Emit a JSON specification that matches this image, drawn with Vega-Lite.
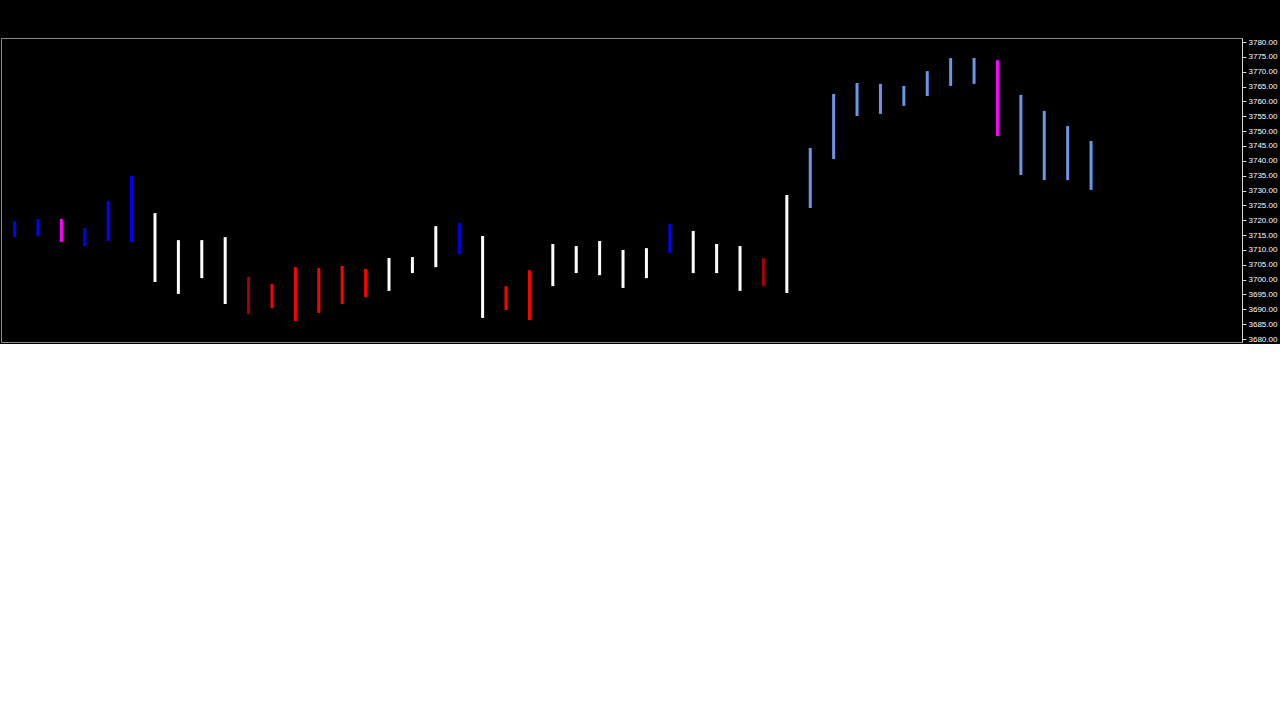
{
"$schema":"https://vega.github.io/schema/vega-lite/v6.json",
"background":"#000000",
"padding":{"left":0,"top":37,"right":0,"bottom":0},
"spacing":2,
"config":{
 "view":{"stroke":"#8a8a8a","strokeWidth":1},
 "axis":{"labelColor":"#ffffff","labelFont":"Liberation Sans","labelFontSize":8,"domainColor":"#d8d8d8","tickColor":"#d8d8d8","tickSize":4,"grid":false,"labelPadding":2,"labelOverlap":false,"labelBound":false},
 "text":{"font":"Liberation Sans Narrow, Arial Narrow, DejaVu Sans Condensed, sans-serif"}
},
"datasets":{
 "candles":[
  {"i":-1,"o":3717.0,"h":3719.7,"l":3714.3,"c":3715.4,"k":"b"},
  {"i":0,"o":3715.7,"h":3720.4,"l":3714.7,"c":3717.0,"k":"b"},
  {"i":1,"o":3717.4,"h":3720.4,"l":3712.7,"c":3713.7,"k":"m"},
  {"i":2,"o":3716.0,"h":3717.4,"l":3711.3,"c":3714.3,"k":"b"},
  {"i":3,"o":3714.0,"h":3726.5,"l":3713.0,"c":3723.8,"k":"b"},
  {"i":4,"o":3718.7,"h":3734.9,"l":3712.7,"c":3724.1,"k":"b"},
  {"i":5,"o":3719.4,"h":3722.4,"l":3699.2,"c":3704.6,"k":"w"},
  {"i":6,"o":3707.3,"h":3713.3,"l":3695.2,"c":3704.2,"k":"w"},
  {"i":7,"o":3713.0,"h":3713.3,"l":3700.5,"c":3712.7,"k":"w"},
  {"i":8,"o":3708.3,"h":3714.3,"l":3691.8,"c":3696.2,"k":"w"},
  {"i":9,"o":3696.5,"h":3700.9,"l":3688.4,"c":3693.8,"k":"d"},
  {"i":10,"o":3694.1,"h":3698.5,"l":3690.4,"c":3693.5,"k":"r"},
  {"i":11,"o":3701.5,"h":3704.2,"l":3686.1,"c":3693.5,"k":"r"},
  {"i":12,"o":3701.5,"h":3703.9,"l":3688.8,"c":3693.8,"k":"r"},
  {"i":13,"o":3702.9,"h":3704.6,"l":3691.8,"c":3693.8,"k":"r"},
  {"i":14,"o":3701.5,"h":3703.6,"l":3694.1,"c":3696.8,"k":"r"},
  {"i":15,"o":3696.8,"h":3707.3,"l":3696.2,"c":3703.9,"k":"w"},
  {"i":16,"o":3703.6,"h":3707.6,"l":3702.2,"c":3706.3,"k":"w"},
  {"i":17,"o":3706.3,"h":3718.0,"l":3704.2,"c":3712.7,"k":"w"},
  {"i":18,"o":3713.0,"h":3719.1,"l":3708.6,"c":3711.3,"k":"b"},
  {"i":19,"o":3711.3,"h":3714.7,"l":3687.1,"c":3694.5,"k":"w"},
  {"i":20,"o":3694.8,"h":3697.8,"l":3689.8,"c":3690.4,"k":"r"},
  {"i":21,"o":3698.5,"h":3703.2,"l":3686.4,"c":3690.4,"k":"r"},
  {"i":22,"o":3698.2,"h":3712.0,"l":3697.8,"c":3708.6,"k":"w"},
  {"i":23,"o":3703.2,"h":3711.3,"l":3702.2,"c":3708.6,"k":"w"},
  {"i":24,"o":3703.2,"h":3713.0,"l":3701.5,"c":3708.6,"k":"w"},
  {"i":25,"o":3704.6,"h":3710.0,"l":3697.2,"c":3709.0,"k":"w"},
  {"i":26,"o":3703.9,"h":3710.6,"l":3700.5,"c":3709.3,"k":"w"},
  {"i":27,"o":3709.0,"h":3718.7,"l":3709.0,"c":3713.0,"k":"b"},
  {"i":28,"o":3713.0,"h":3716.4,"l":3702.2,"c":3703.9,"k":"w"},
  {"i":29,"o":3710.6,"h":3712.0,"l":3702.2,"c":3703.9,"k":"w"},
  {"i":30,"o":3710.6,"h":3711.3,"l":3696.2,"c":3698.9,"k":"w"},
  {"i":31,"o":3702.2,"h":3707.3,"l":3697.8,"c":3698.9,"k":"d"},
  {"i":32,"o":3701.9,"h":3728.5,"l":3695.5,"c":3726.8,"k":"w"},
  {"i":33,"o":3726.8,"h":3744.3,"l":3724.1,"c":3742.3,"k":"l"},
  {"i":34,"o":3742.3,"h":3762.5,"l":3740.6,"c":3755.8,"k":"l"},
  {"i":35,"o":3755.8,"h":3766.2,"l":3755.1,"c":3763.5,"k":"l"},
  {"i":36,"o":3758.5,"h":3765.9,"l":3755.8,"c":3763.5,"k":"l"},
  {"i":37,"o":3762.5,"h":3765.2,"l":3758.5,"c":3758.8,"k":"l"},
  {"i":38,"o":3762.2,"h":3770.2,"l":3761.8,"c":3769.2,"k":"l"},
  {"i":39,"o":3765.9,"h":3774.6,"l":3765.2,"c":3769.2,"k":"l"},
  {"i":40,"o":3765.9,"h":3774.6,"l":3765.9,"c":3769.6,"k":"l"},
  {"i":41,"o":3769.6,"h":3773.9,"l":3748.3,"c":3751.4,"k":"m"},
  {"i":42,"o":3751.0,"h":3762.2,"l":3735.2,"c":3749.4,"k":"l"},
  {"i":43,"o":3749.4,"h":3756.8,"l":3733.5,"c":3747.7,"k":"l"},
  {"i":44,"o":3746.7,"h":3751.7,"l":3733.5,"c":3740.3,"k":"l"},
  {"i":45,"o":3740.3,"h":3746.7,"l":3730.2,"c":3745.25,"k":"l"}
 ],
 "ema":[
  {"i":-1,"cy":3715.7,"r":3710.3,"mg":3716.0,"ye":3705.3,"yk":"g"},
  {"i":0,"cy":3715.7,"r":3710.6,"mg":3716.0,"ye":3705.6,"yk":"g"},
  {"i":1,"cy":3715.7,"r":3711.3,"mg":3716.0,"ye":3706.3,"yk":"g"},
  {"i":2,"cy":3714.7,"r":3712.0,"mg":3715.8,"ye":3706.6,"yk":"g"},
  {"i":3,"cy":3718.0,"r":3713.7,"mg":3715.7,"ye":3707.3,"yk":"g"},
  {"i":4,"cy":3718.0,"r":3714.3,"mg":3715.7,"ye":3707.6,"yk":"g"},
  {"i":5,"cy":3713.7,"r":3713.7,"mg":3715.7,"ye":3707.6,"yk":"g"},
  {"i":6,"cy":3711.7,"r":3712.3,"mg":3715.5,"ye":3707.6,"yk":"g"},
  {"i":7,"cy":3710.6,"r":3711.3,"mg":3715.4,"ye":3707.6,"yk":"g"},
  {"i":8,"cy":3706.3,"r":3709.6,"mg":3715.4,"ye":3706.9,"yk":"g"},
  {"i":9,"cy":3701.9,"r":3707.3,"mg":3715.2,"ye":3706.6,"yk":"g"},
  {"i":10,"cy":3698.9,"r":3705.6,"mg":3715.0,"ye":3705.9,"yk":"g"},
  {"i":11,"cy":3699.5,"r":3704.6,"mg":3715.0,"ye":3705.9,"yk":"g"},
  {"i":12,"cy":3697.5,"r":3702.9,"mg":3714.8,"ye":3705.3,"yk":"g"},
  {"i":13,"cy":3699.2,"r":3702.2,"mg":3714.7,"ye":3705.3,"yk":"g"},
  {"i":14,"cy":3698.5,"r":3701.9,"mg":3714.7,"ye":3704.9,"yk":"g"},
  {"i":15,"cy":3700.5,"r":3702.9,"mg":3714.5,"ye":3704.9,"yk":"g"},
  {"i":16,"cy":3702.2,"r":3703.6,"mg":3714.3,"ye":3704.9,"yk":"g"},
  {"i":17,"cy":3706.3,"r":3704.2,"mg":3714.3,"ye":3705.3,"yk":"g"},
  {"i":18,"cy":3707.6,"r":3704.6,"mg":3714.3,"ye":3705.3,"yk":"g"},
  {"i":19,"cy":3703.6,"r":3703.6,"mg":3714.2,"ye":3704.9,"yk":"y"},
  {"i":20,"cy":3698.9,"r":3702.6,"mg":3714.0,"ye":3704.2,"yk":"y"},
  {"i":21,"cy":3698.9,"r":3702.2,"mg":3714.0,"ye":3704.2,"yk":"y"},
  {"i":22,"cy":3701.9,"r":3702.6,"mg":3714.0,"ye":3704.2,"yk":"y"},
  {"i":23,"cy":3702.9,"r":3703.6,"mg":3713.8,"ye":3704.6,"yk":"y"},
  {"i":24,"cy":3703.9,"r":3703.9,"mg":3713.7,"ye":3704.6,"yk":"y"},
  {"i":25,"cy":3704.6,"r":3704.6,"mg":3713.7,"ye":3704.6,"yk":"y"},
  {"i":26,"cy":3705.6,"r":3704.9,"mg":3713.7,"ye":3704.6,"yk":"y"},
  {"i":27,"cy":3708.6,"r":3705.6,"mg":3713.5,"ye":3704.9,"yk":"y"},
  {"i":28,"cy":3707.3,"r":3705.9,"mg":3713.5,"ye":3704.9,"yk":"y"},
  {"i":29,"cy":3708.0,"r":3705.9,"mg":3713.3,"ye":3704.9,"yk":"y"},
  {"i":30,"cy":3705.6,"r":3705.6,"mg":3713.3,"ye":3704.9,"yk":"y"},
  {"i":31,"cy":3704.2,"r":3705.6,"mg":3713.0,"ye":3705.3,"yk":"y"},
  {"i":32,"cy":3710.6,"r":3708.3,"mg":3713.3,"ye":3705.9,"yk":"y"},
  {"i":33,"cy":3723.0,"r":3713.0,"mg":3713.7,"ye":3707.3,"yk":"y"},
  {"i":34,"cy":3734.0,"r":3718.7,"mg":3714.0,"ye":3709.0,"yk":"y"},
  {"i":35,"cy":3743.6,"r":3725.5,"mg":3714.7,"ye":3711.0,"yk":"y"},
  {"i":36,"cy":3748.3,"r":3729.8,"mg":3715.0,"ye":3713.3,"yk":"y"},
  {"i":37,"cy":3752.7,"r":3734.2,"mg":3715.4,"ye":3715.0,"yk":"y"},
  {"i":38,"cy":3758.5,"r":3739.9,"mg":3715.7,"ye":3717.4,"yk":"y"},
  {"i":39,"cy":3761.1,"r":3744.0,"mg":3716.4,"ye":3719.1,"yk":"y"},
  {"i":40,"cy":3764.2,"r":3747.3,"mg":3716.7,"ye":3721.1,"yk":"y"},
  {"i":41,"cy":3759.5,"r":3747.7,"mg":3717.0,"ye":3722.1,"yk":"y"},
  {"i":42,"cy":3756.1,"r":3748.0,"mg":3717.4,"ye":3723.1,"yk":"y"},
  {"i":43,"cy":3753.4,"r":3747.7,"mg":3717.7,"ye":3724.1,"yk":"y"},
  {"i":44,"cy":3749.0,"r":3747.0,"mg":3718.0,"ye":3724.8,"yk":"y"},
  {"i":45,"cy":3747.9,"r":3746.6,"mg":3718.42,"ye":3725.79,"yk":"y"}
 ],
 "cloudR":[
  {"i":-1.37,"t":3712.3,"b":3712.3},
  {"i":-1,"t":3712.3,"b":3688.4},
  {"i":3,"t":3711.3,"b":3688.8},
  {"i":6,"t":3711.0,"b":3689.1},
  {"i":9,"t":3710.6,"b":3690.4},
  {"i":12,"t":3710.0,"b":3691.8},
  {"i":15,"t":3709.0,"b":3693.1},
  {"i":16.5,"t":3707.0,"b":3693.6},
  {"i":18,"t":3702.9,"b":3693.8},
  {"i":19.5,"t":3693.8,"b":3693.8}
 ],
 "cloudG":[
  {"i":19.5,"t":3693.8,"b":3693.8},
  {"i":20.5,"t":3699.5,"b":3686.7},
  {"i":21.5,"t":3700.9,"b":3684.0},
  {"i":23,"t":3702.2,"b":3686.7},
  {"i":25,"t":3703.6,"b":3691.1},
  {"i":27,"t":3705.3,"b":3695.5},
  {"i":29,"t":3706.9,"b":3698.9},
  {"i":31,"t":3708.3,"b":3701.5},
  {"i":33,"t":3709.0,"b":3703.6},
  {"i":35,"t":3709.6,"b":3703.9},
  {"i":37,"t":3710.3,"b":3703.9},
  {"i":39,"t":3709.6,"b":3703.9},
  {"i":41,"t":3707.6,"b":3703.9},
  {"i":43,"t":3706.3,"b":3703.9},
  {"i":45,"t":3705.9,"b":3703.9},
  {"i":51.2,"t":3705.9,"b":3703.9}
 ],
 "dots":[
  {"i":-1,"p":3729.8,"k":"gold"},{"i":0,"p":3729.8,"k":"green"},{"i":7,"p":3695.2,"k":"gold"},
  {"i":8,"p":3691.2,"k":"red"},{"i":10,"p":3688.2,"k":"gold"},{"i":11,"p":3686.2,"k":"red"},
  {"i":12,"p":3686.2,"k":"gold"},{"i":13,"p":3686.2,"k":"gold"},{"i":14,"p":3686.2,"k":"gold"},
  {"i":21,"p":3685.0,"k":"red"},{"i":23,"p":3719.4,"k":"gold"},{"i":36,"p":3767.0,"k":"gold"},
  {"i":37,"p":3767.0,"k":"gold"},{"i":38,"p":3771.3,"k":"green"},{"i":40,"p":3776.0,"k":"gold"},
  {"i":45,"p":3733.2,"k":"red"}
 ],
 "crosses":[
  {"i":8,"p":3712.0,"k":"tan"},{"i":10,"p":3700.2,"k":"gray"},{"i":17,"p":3702.2,"k":"tan"},
  {"i":19,"p":3713.0,"k":"tan"},{"i":24,"p":3700.9,"k":"tan"},{"i":26,"p":3697.8,"k":"gray"},
  {"i":31,"p":3705.3,"k":"tan"},{"i":32,"p":3694.5,"k":"tan"}
 ],
 "arrowsDown":[{"i":18,"p":3724.3}],
 "arrowsUp":[{"i":28,"p":3699.0},{"i":31,"p":3694.2}],
 "ptags":[
  {"p":3748.6,"t":"3748.56","k":"cy"},
  {"p":3747.2,"t":"3747.20","k":"cr"},
  {"p":3745.25,"t":"3745.25","k":"bk"},
  {"p":3733.25,"t":"3733.25","k":"rd"},
  {"p":3725.79,"t":"3725.79","k":"ye"},
  {"p":3718.42,"t":"3718.42","k":"mg"}
 ],
 "mom":[
  {"i":-1,"h":1,"m":13.6,"s":13.6},{"i":0,"h":0.7,"m":13.6,"s":14},{"i":1,"h":-1,"m":13,"s":13.6},
  {"i":2,"h":-1.5,"m":12.1,"s":13},{"i":3,"h":2,"m":14.2,"s":13.6},{"i":4,"h":0.5,"m":14.2,"s":13.6},
  {"i":5,"h":-7.2,"m":8.1,"s":11.8},{"i":6,"h":-8.5,"m":5.7,"s":9.4},{"i":7,"h":-7.5,"m":3.9,"s":7.5},
  {"i":8,"h":-12.2,"m":-1.7,"s":3.5},{"i":9,"h":-13.6,"m":-5.7,"s":0.7},{"i":10,"h":-12.8,"m":-9,"s":-2},
  {"i":11,"h":-6.8,"m":-7.5,"s":-4.2},{"i":12,"h":-5.9,"m":-9.4,"s":-5.7},{"i":13,"h":-1.2,"m":-7.2,"s":-6.1},
  {"i":14,"h":-1.5,"m":-6.6,"s":-6.1},{"i":15,"h":2.5,"m":-4.8,"s":-5.3},{"i":16,"h":4.7,"m":-2.6,"s":-3.9},
  {"i":17,"h":8.4,"m":1.3,"s":-2},{"i":18,"h":8.4,"m":3.5,"s":-0.2},{"i":19,"h":0.4,"m":-0.6,"s":-1.1},
  {"i":20,"h":-5,"m":-5.3,"s":-2.6},{"i":21,"h":-3.7,"m":-5,"s":-3.5},{"i":22,"h":2.5,"m":-1.7,"s":-2.4},
  {"i":23,"h":2.5,"m":-1.5,"s":-2},{"i":24,"h":4.4,"m":0.7,"s":-1.1},{"i":25,"h":3.5,"m":1.3,"s":-0.2},
  {"i":26,"h":3.8,"m":3,"s":1.1},{"i":27,"h":5.3,"m":5.3,"s":1.9},{"i":28,"h":2.5,"m":3,"s":2.5},
  {"i":29,"h":3.4,"m":3.4,"s":2.8},{"i":30,"h":-2.6,"m":0.6,"s":1.5},{"i":31,"h":-3.2,"m":-0.4,"s":1.1},
  {"i":32,"h":7.2,"m":6.2,"s":2.5},{"i":33,"h":15.7,"m":15.1,"s":7.2},{"i":34,"h":21,"m":23.2,"s":12.8},
  {"i":35,"h":22.3,"m":28.9,"s":17.5},{"i":36,"h":17.2,"m":31.3,"s":21.9},{"i":37,"h":14.2,"m":34.5,"s":25.1},
  {"i":38,"h":12.8,"m":35.8,"s":28.3},{"i":39,"h":9,"m":35.8,"s":30.8},{"i":40,"h":7.5,"m":36.4,"s":32.6},
  {"i":41,"h":-3.2,"m":30.2,"s":32.1},{"i":42,"h":-7.9,"m":26.4,"s":30.2},{"i":43,"h":-10.2,"m":22.3,"s":27.5},
  {"i":44,"h":-13,"m":17,"s":24.2},{"i":45,"h":-11.14,"m":15.14,"s":20.71}
 ],
 "mlines":[{"v":25,"k":"g"},{"v":-25,"k":"r"}],
 "mtags":[
  {"p":25,"t":"25","k":"gr"},{"p":20.71,"t":"20.71","k":"pk"},{"p":15.14,"t":"15.14","k":"bl"},
  {"p":-11.14,"t":"-11.14","k":"rd"},{"p":-25,"t":"-25","k":"rd"}
 ],
 "vbands":[
  {"lo":8,"hi":15.47,"k":"r"},{"lo":4,"hi":8,"k":"y"},{"lo":-4,"hi":4,"k":"g"},
  {"lo":-8,"hi":-4,"k":"y"},{"lo":-12.8,"hi":-8,"k":"r"}
 ],
 "vlines":[{"v":8},{"v":4},{"v":0},{"v":-4},{"v":-8}],
 "vc":[
  {"i":-1,"o":-0.9,"h":-0.45,"l":-2.4,"c":-2.2},{"i":0,"o":-2.2,"h":0,"l":-2.5,"c":-0.6},
  {"i":1,"o":0,"h":1.1,"l":-3.1,"c":-2.7},{"i":2,"o":-1.8,"h":0,"l":-4.0,"c":-2.2},
  {"i":3,"o":-2.2,"h":6.0,"l":-2.5,"c":4.4},{"i":4,"o":4.4,"h":7.4,"l":-2.7,"c":0.2},
  {"i":5,"o":1.3,"h":2.0,"l":-6.0,"c":-4.4},{"i":6,"o":-3.1,"h":-0.4,"l":-5.6,"c":-2.2},
  {"i":7,"o":-1.8,"h":0,"l":-3.7,"c":-1.6},{"i":8,"o":-0.2,"h":0.2,"l":-4.4,"c":-3.1},
  {"i":9,"o":-2.2,"h":-0.9,"l":-4.3,"c":-2.7},{"i":10,"o":-2.5,"h":-1.3,"l":-4.0,"c":-2.7},
  {"i":11,"o":-1.8,"h":2.0,"l":-4.3,"c":1.3},{"i":12,"o":1.8,"h":2.2,"l":-2.2,"c":-0.9},
  {"i":13,"o":-0.9,"h":3.1,"l":-1.1,"c":2.7},{"i":14,"o":2.5,"h":2.7,"l":-0.9,"c":0},
  {"i":15,"o":-0.4,"h":2.9,"l":-0.9,"c":2.5},{"i":16,"o":2.0,"h":3.6,"l":1.3,"c":2.9},
  {"i":17,"o":1.8,"h":6.7,"l":0.7,"c":4.5},{"i":18,"o":4.9,"h":6.1,"l":1.3,"c":2.2},
  {"i":19,"o":1.8,"h":2.2,"l":-7.0,"c":-4.9},{"i":20,"o":-4.9,"h":-2.9,"l":-5.8,"c":-5.4},
  {"i":21,"o":-4.6,"h":-0.2,"l":-5.5,"c":-0.7},{"i":22,"o":-0.4,"h":3.6,"l":-0.7,"c":3.1},
  {"i":23,"o":3.1,"h":3.6,"l":1.3,"c":1.8},{"i":24,"o":1.1,"h":5.2,"l":0,"c":4.0},
  {"i":25,"o":1.8,"h":2.2,"l":-2.2,"c":0.4},{"i":26,"o":-0.4,"h":1.8,"l":-1.8,"c":1.3},
  {"i":27,"o":0.7,"h":4.9,"l":0.2,"c":3.1},{"i":28,"o":2.7,"h":3.1,"l":-2.0,"c":-1.8},
  {"i":29,"o":-1.3,"h":1.8,"l":-1.8,"c":1.3},{"i":30,"o":1.1,"h":1.3,"l":-4.9,"c":-4.3},
  {"i":31,"o":-3.7,"h":-1.8,"l":-4.0,"c":-2.2},{"i":32,"o":-1.6,"h":7.1,"l":-3.4,"c":6.9},
  {"i":33,"o":4.5,"h":9.6,"l":4.0,"c":9.4},{"i":34,"o":5.8,"h":10.9,"l":5.5,"c":9.6},
  {"i":35,"o":6.4,"h":9.4,"l":6.2,"c":8.9},{"i":36,"o":5.4,"h":5.5,"l":3.4,"c":4.0},
  {"i":37,"o":2.0,"h":3.6,"l":1.6,"c":3.1},{"i":38,"o":1.1,"h":4.3,"l":0.7,"c":4.0},
  {"i":39,"o":3.6,"h":5.8,"l":1.1,"c":1.3},{"i":40,"o":0.4,"h":5.2,"l":0,"c":2.5},
  {"i":41,"o":2.7,"h":3.1,"l":-7.3,"c":-6.1},{"i":42,"o":-4.0,"h":-0.7,"l":-8.8,"c":-4.5},
  {"i":43,"o":-2.7,"h":-0.7,"l":-6.7,"c":-3.1},{"i":44,"o":-2.7,"h":-0.9,"l":-4.6,"c":-3.1},
  {"i":45,"o":-3.1,"h":-0.2,"l":-3.7,"c":-0.5}
 ],
 "rsi":[
  {"i":-1,"v":57.2,"k":"g"},{"i":0,"v":58.2,"k":"r"},{"i":1,"v":55.3,"k":"g"},{"i":2,"v":55.3,"k":"g"},
  {"i":3,"v":60.8,"k":"g"},{"i":4,"v":57.2,"k":"r"},{"i":5,"v":47.1,"k":"r"},{"i":6,"v":49.0,"k":"r"},
  {"i":7,"v":49.6,"k":"r"},{"i":8,"v":42.4,"k":"r"},{"i":9,"v":41.0,"k":"r"},{"i":10,"v":40.5,"k":"r"},
  {"i":11,"v":47.1,"k":"r"},{"i":12,"v":41.8,"k":"r"},{"i":13,"v":48.5,"k":"r"},{"i":14,"v":44.9,"k":"r"},
  {"i":15,"v":50.4,"k":"r"},{"i":16,"v":51.7,"k":"r"},{"i":17,"v":55.7,"k":"r"},{"i":18,"v":55.1,"k":"r"},
  {"i":19,"v":43.7,"k":"r"},{"i":20,"v":41.4,"k":"r"},{"i":21,"v":47.1,"k":"g"},{"i":22,"v":53.2,"k":"g"},
  {"i":23,"v":49.4,"k":"g"},{"i":24,"v":53.2,"k":"g"},{"i":25,"v":51.3,"k":"g"},{"i":26,"v":52.5,"k":"g"},
  {"i":27,"v":56.1,"k":"g"},{"i":28,"v":49.4,"k":"g"},{"i":29,"v":53.2,"k":"r"},{"i":30,"v":46.6,"k":"r"},
  {"i":31,"v":48.1,"k":"g"},{"i":32,"v":60.5,"k":"g"},{"i":33,"v":66.2,"k":"g"},{"i":34,"v":70.0,"k":"g"},
  {"i":35,"v":72.3,"k":"g"},{"i":36,"v":68.5,"k":"g"},{"i":37,"v":69.6,"k":"g"},{"i":38,"v":72.3,"k":"g"},
  {"i":39,"v":69.4,"k":"g"},{"i":40,"v":71.0,"k":"g"},{"i":41,"v":59.0,"k":"g"},{"i":42,"v":58.2,"k":"g"},
  {"i":43,"v":56.7,"k":"r"},{"i":44,"v":52.78,"k":"r"}
 ],
 "rsidots":[{"i":35,"v":72.9},{"i":38,"v":72.9},{"i":40,"v":72.4}],
 "rlines":[{"v":70},{"v":30}],
 "rtags":[{"p":52.78,"t":"52.78","k":"cr"}]
},
"vconcat":[
 {
  "width":1241,"height":304,
  "layer":[
   {"data":{"name":"candles"},"mark":{"type":"rule","strokeWidth":3},
    "encoding":{
     "x":{"field":"i","type":"quantitative","scale":{"domain":[-1.58,51.45],"nice":false,"zero":false},"axis":null},
     "y":{"field":"l","type":"quantitative","scale":{"domain":[3679,3781.35],"nice":false,"zero":false},
          "axis":{"orient":"right","values":[3680,3685,3690,3695,3700,3705,3710,3715,3720,3725,3730,3735,3740,3745,3750,3755,3760,3765,3770,3775,3780],"format":".2f"}},
     "y2":{"field":"h"},
     "color":{"field":"k","type":"nominal","scale":{"domain":["b","m","w","r","d","l"],"range":["#0000ff","#ff00ff","#ffffff","#ff0000","#a80000","#6a96e8"]},"legend":null}}}
  ]
 }
]
}
